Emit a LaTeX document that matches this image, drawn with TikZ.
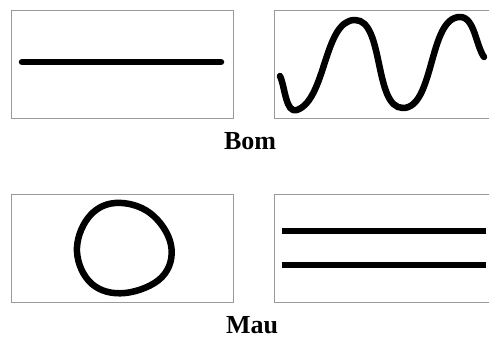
\documentclass[tikz,border=0pt]{standalone}
\usepackage{fontspec}
\setmainfont{Liberation Serif}
\usetikzlibrary{positioning}

\begin{document}
\begin{tikzpicture}[
    x=1pt, y=-1pt,
    frame/.style={draw=gray!80, line width=1pt, minimum width=222pt, minimum height=108pt, inner sep=0pt},
    stroke/.style={line width=6.5pt, line cap=round, line join=round},
    caption/.style={font=\fontsize{26}{28}\selectfont\bfseries, inner sep=0pt}
  ]
    \useasboundingbox (0,0) rectangle (489,338);
    \clip (0,0) rectangle (489,338);

    % boxes
    \node[frame] (goodl) at (122,64) {};
    \node[frame, anchor=west] (goodr) at (274,64) {};
    \node[frame] (badl) at (122,248.5) {};
    \node[frame, anchor=west] (badr) at (274,248.5) {};

    % good
    \draw[stroke] (280,76) to[out=-65,in=200,looseness=0.8] (297,110)
      to[out=20,in=180,looseness=0.75] (355,20)
      to[out=0,in=180,looseness=0.75] (403,108)
      to[out=0,in=180,looseness=0.75] (460,17)
      to[out=0,in=125,looseness=0.8] (484,57);
    \draw[stroke] (22,62) -- (221,62);
    \node[caption] (good) at (250,141) {Bom};

    % bad
    \draw[stroke] plot[smooth cycle, tension=0.65] coordinates {(115,203) (150,213) (171,245) (162,277) (125,293) (92,284) (77,252) (88,218)};
    \draw[stroke, line cap=butt] (282,231) -- (486,231);
    \draw[stroke, line cap=butt] (282,265) -- (486,265);
    \node[caption] (bad) at (252,325) {Mau};
  \end{tikzpicture}
\end{document}
